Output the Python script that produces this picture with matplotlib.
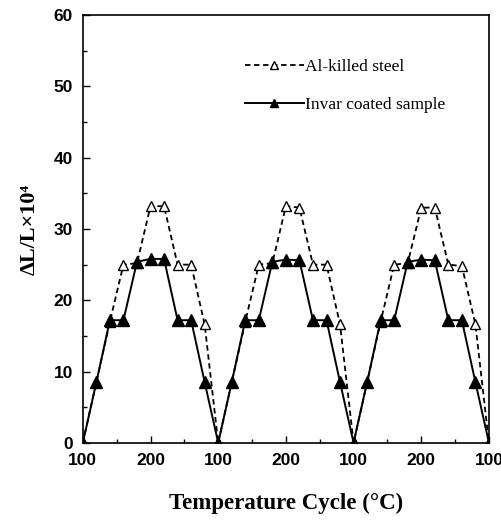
import matplotlib
matplotlib.use("Agg")
import matplotlib.pyplot as plt
from matplotlib.ticker import MultipleLocator

# positions along the temperature cycle (1 unit = 100 -> 200 C half cycle)
x_invar = [0.0, 0.2, 0.4, 0.6, 0.8, 1.0, 1.2, 1.4, 1.6, 1.8,
           2.0, 2.2, 2.4, 2.6, 2.8, 3.0, 3.2, 3.4, 3.6, 3.8,
           4.0, 4.2, 4.4, 4.6, 4.8, 5.0, 5.2, 5.4, 5.6, 5.8, 6.0]
y_invar = [0, 8.5, 17.2, 17.2, 25.4, 25.8, 25.8, 17.2, 17.2, 8.5,
           0, 8.5, 17.2, 17.2, 25.4, 25.7, 25.6, 17.2, 17.2, 8.5,
           0, 8.5, 17.2, 17.2, 25.4, 25.7, 25.6, 17.2, 17.2, 8.5, 0]

x_al = [0.0, 0.4, 0.6, 0.8, 1.0, 1.2, 1.4, 1.6, 1.8,
        2.0, 2.4, 2.6, 2.8, 3.0, 3.2, 3.4, 3.6, 3.8,
        4.0, 4.4, 4.6, 4.8, 5.0, 5.2, 5.4, 5.6, 5.8, 6.0]
y_al = [0, 17.0, 25.0, 25.2, 33.2, 33.2, 25.0, 25.0, 16.6,
        0, 17.0, 25.0, 25.2, 33.2, 33.0, 25.0, 25.0, 16.6,
        0, 17.0, 25.0, 25.2, 33.0, 33.0, 25.0, 24.8, 16.6, 0]

tick_pos = [0, 1, 2, 3, 4, 5, 6]
tick_labels = ["100", "200", "100", "200", "100", "200", "100"]

fig = plt.figure(figsize=(5.02, 5.24), dpi=100)
ax = fig.add_axes([0.165, 0.155, 0.809, 0.816])

ax.plot(x_al, y_al, color="black", lw=1.3, ls=(0, (3, 2)),
        marker="^", ms=7, mfc="white", mec="black", mew=1.0,
        label="Al-killed steel")
ax.plot(x_invar, y_invar, color="black", lw=1.4, ls="-",
        marker="^", ms=8, mfc="black", mec="black",
        label="Invar coated sample")

ax.set_xlim(0, 6)
ax.set_ylim(0, 60)
ax.set_xticks(tick_pos)
ax.set_xticklabels(tick_labels)
ax.xaxis.set_minor_locator(MultipleLocator(0.5))
ax.set_yticks(range(0, 61, 10))
ax.yaxis.set_minor_locator(MultipleLocator(5))
ax.tick_params(which="both", direction="in", top=False, right=False)
ax.tick_params(which="major", length=5, width=1, labelsize=12.5, pad=7)
ax.tick_params(which="minor", length=3, width=1)
for lab in ax.get_xticklabels() + ax.get_yticklabels():
    lab.set_family(["Liberation Sans Narrow", "Liberation Sans"])
    lab.set_fontweight("bold")
for s in ax.spines.values():
    s.set_linewidth(1.2)

ax.set_xlabel("Temperature Cycle (\u00b0C)", family="Liberation Serif",
              fontweight="bold", fontsize=16.5, labelpad=18)
ax.set_ylabel("\u0394L/L\u00d710\u2074", family="Liberation Serif",
              fontweight="bold", fontsize=16, labelpad=10)

leg = ax.legend(loc="upper left", bbox_to_anchor=(0.36, 0.935), frameon=False,
                prop={"family": "Liberation Serif", "size": 12.5},
                handlelength=3.4, handletextpad=0.05, labelspacing=1.3,
                markerscale=0.8)

fig.savefig("out.png", dpi=100)
